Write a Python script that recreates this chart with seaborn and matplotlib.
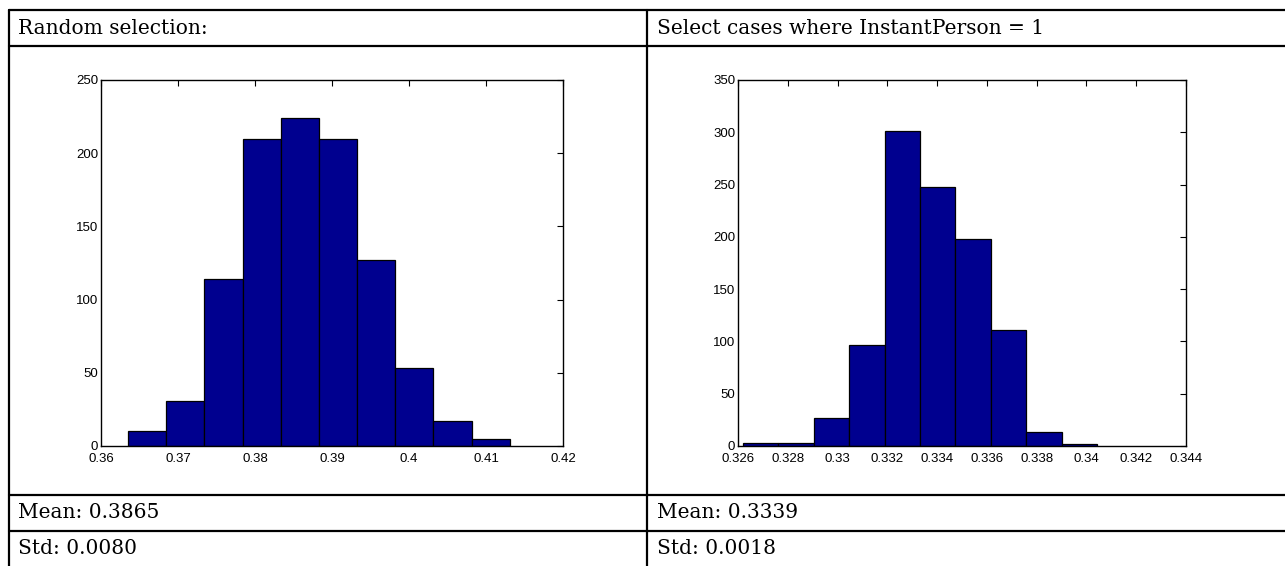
import numpy as np
import pandas as pd
import matplotlib
matplotlib.use("Agg")
import matplotlib.pyplot as plt
from matplotlib.lines import Line2D
import seaborn as sns

# ---------------- data ----------------
header_left = "Random selection:"
header_right = "Select cases where InstantPerson = 1"
stats_left = ["Mean: 0.3865", "Std: 0.0080"]
stats_right = ["Mean: 0.3339", "Std: 0.0018"]

# left histogram (10 bins between sample min and max)
left_min, left_max = 0.3635, 0.4131
left_counts = [10, 31, 114, 210, 224, 210, 127, 53, 17, 5]
left_xticks = [0.36, 0.37, 0.38, 0.39, 0.40, 0.41, 0.42]
left_xlabels = ["0.36", "0.37", "0.38", "0.39", "0.4", "0.41", "0.42"]
left_yticks = [0, 50, 100, 150, 200, 250]

# right histogram
right_min, right_max = 0.3262, 0.34043
right_counts = [3, 3, 27, 97, 301, 248, 198, 111, 13, 2]
right_xticks = [0.326, 0.328, 0.330, 0.332, 0.334, 0.336, 0.338, 0.340, 0.342, 0.344]
right_xlabels = ["0.326", "0.328", "0.33", "0.332", "0.334", "0.336", "0.338", "0.34", "0.342", "0.344"]
right_yticks = [0, 50, 100, 150, 200, 250, 300, 350]

# ---------------- figure ----------------
sns.set_style("white")
plt.rcParams["font.family"] = ["Liberation Sans", "DejaVu Sans"]
plt.rcParams["text.color"] = "black"

W, H = 1285, 566
fig = plt.figure(figsize=(W / 100, H / 100), dpi=100)

def px_box(x0, y0, x1, y1):
    return [x0 / W, 1 - y1 / H, (x1 - x0) / W, (y1 - y0) / H]

navy = "#00008F"

def draw_hist(ax, lo, hi, counts, xticks, xlabels, yticks):
    n = len(counts)
    step = (hi - lo) / n
    centers = [lo + step * (i + 0.5) for i in range(n)]
    df = pd.DataFrame({"x": centers, "w": counts})
    sns.histplot(data=df, x="x", weights="w", bins=n, binrange=(lo, hi), ax=ax,
                 color=navy, alpha=1.0, edgecolor="black", linewidth=0.9)
    ax.set_xlim(xticks[0], xticks[-1])
    ax.set_ylim(yticks[0], yticks[-1])
    ax.set_xticks(xticks)
    ax.set_xticklabels(xlabels)
    ax.set_yticks(yticks)
    ax.set_xlabel("")
    ax.set_ylabel("")
    ax.tick_params(direction="in", length=4, width=0.8, top=True, right=True,
                   labelsize=9.5, colors="black")
    ax.tick_params(axis="x", pad=4.8)
    ax.tick_params(axis="y", pad=2)
    for s in ax.spines.values():
        s.set_visible(True)
        s.set_color("black")
        s.set_linewidth(1.0)

ax1 = fig.add_axes(px_box(101, 80, 563, 446))
draw_hist(ax1, left_min, left_max, left_counts, left_xticks, left_xlabels, left_yticks)
ax2 = fig.add_axes(px_box(738, 80, 1186, 446))
draw_hist(ax2, right_min, right_max, right_counts, right_xticks, right_xlabels, right_yticks)

# ---------------- table grid ----------------
lw = 1.6
for y in [10, 46, 495, 531]:
    fig.add_artist(Line2D([9 / W, 1.0], [1 - y / H, 1 - y / H], color="black", lw=lw))
for x in [9, 647]:
    fig.add_artist(Line2D([x / W, x / W], [1 - 10 / H, 0.0], color="black", lw=lw))

serif = ["DejaVu Serif"]
fs = 14.5
kw = dict(family=serif, fontsize=fs, va="center", ha="left", color="black")
fig.text(18 / W, 1 - 28 / H, header_left, **kw)
fig.text(657 / W, 1 - 28 / H, header_right, **kw)
for i, (a, b) in enumerate(zip(stats_left, stats_right)):
    yc = [513, 549][i]
    fig.text(18 / W, 1 - yc / H, a, **kw)
    fig.text(657 / W, 1 - yc / H, b, **kw)

fig.savefig("out.png", dpi=100)
